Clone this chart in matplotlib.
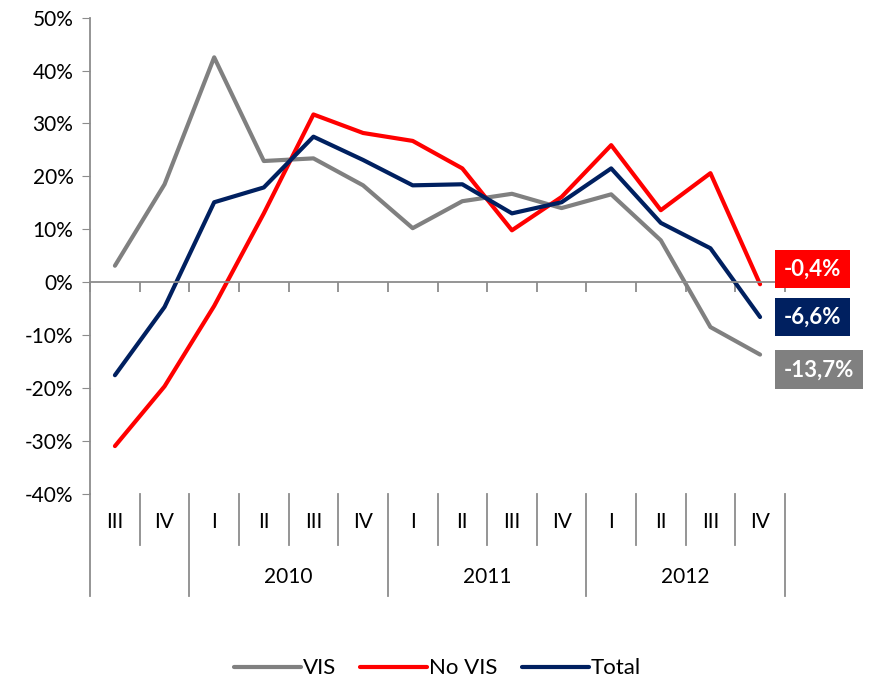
import matplotlib.pyplot as plt
import matplotlib.transforms as mtransforms

plt.rcParams['font.family'] = ['Lato', 'DejaVu Sans']

quarters = ["III", "IV", "I", "II", "III", "IV", "I", "II", "III", "IV",
            "I", "II", "III", "IV"]
years = ["2010", "2011", "2012"]
year_spans = [(1.5, 5.5), (5.5, 9.5), (9.5, 13.5)]

vis = [3.1, 18.5, 42.5, 22.9, 23.4, 18.3, 10.2, 15.3, 16.7, 14.0,
       16.6, 7.9, -8.5, -13.7]
no_vis = [-31.0, -19.7, -4.5, 13.0, 31.7, 28.2, 26.7, 21.5, 9.8, 16.1,
          25.9, 13.6, 20.6, -0.4]
total = [-17.6, -4.7, 15.1, 17.9, 27.5, 23.1, 18.3, 18.5, 13.0, 15.1,
         21.5, 11.2, 6.4, -6.6]

c_vis = "#808080"
c_novis = "#FF0000"
c_total = "#002060"
axis_c = "#8c8c8c"

fig = plt.figure(figsize=(8.75, 6.8), dpi=100)
ax = fig.add_axes([0.103, 0.274, 0.794, 0.7])

x = list(range(len(quarters)))
ax.plot(x, vis, color=c_vis, lw=3, label="VIS", solid_capstyle="round")
ax.plot(x, no_vis, color=c_novis, lw=3, label="No VIS", solid_capstyle="round")
ax.plot(x, total, color=c_total, lw=3, label="Total", solid_capstyle="round")

ax.set_xlim(-0.5, 13.5)
ax.set_ylim(-40, 50)
ax.set_yticks(range(-40, 51, 10))
ax.set_yticklabels([f"{v}%" for v in range(-40, 51, 10)], fontsize=15)
ax.tick_params(axis="y", direction="out", length=6, color=axis_c, pad=6)

for s in ["top", "right"]:
    ax.spines[s].set_visible(False)
ax.spines["left"].set_color(axis_c)
ax.spines["left"].set_linewidth(1.3)
ax.spines["bottom"].set_position(("data", 0))
ax.spines["bottom"].set_color(axis_c)
ax.spines["bottom"].set_linewidth(1.3)
ax.set_xticks([b + 0.5 for b in range(-1, 14)])
ax.set_xticklabels([])
ax.tick_params(axis="x", direction="out", length=7, color=axis_c, width=1.3)

# category axis below the plot
trans = mtransforms.blended_transform_factory(ax.transData, ax.transAxes)
q_bottom = -0.107
y_bottom = -0.214
ax.plot([-0.5, -0.5], [0, y_bottom], transform=trans, color=axis_c, lw=1.3,
        clip_on=False)
for b in range(len(quarters)):
    edge = b + 0.5
    long_sep = any(abs(edge - e) < 1e-6 for span in year_spans for e in span)
    ax.plot([edge, edge], [0, y_bottom if long_sep else q_bottom],
            transform=trans, color=axis_c, lw=1.3, clip_on=False)
for i, q in enumerate(quarters):
    ax.text(i, -0.059, q, transform=trans, ha="center", va="center",
            fontsize=15)
for yr, (a, b) in zip(years, year_spans):
    ax.text((a + b) / 2, -0.176, yr, transform=trans, ha="center",
            va="center", fontsize=15)

# end labels
end_labels = [(no_vis[-1], c_novis, 11), (total[-1], c_total, 0),
              (vis[-1], c_vis, -11)]
for val, col, dy in end_labels:
    ax.annotate(f"{val:.1f}%".replace(".", ","), xy=(13, val),
                xytext=(17, dy), textcoords="offset points",
                ha="left", va="center", fontsize=16, fontweight="bold",
                color="white", annotation_clip=False,
                bbox=dict(boxstyle="square,pad=0.4", fc=col, ec="none"))

fig.legend(loc="lower center", ncol=3, frameon=False, fontsize=16,
           bbox_to_anchor=(0.5, -0.027), handlelength=3.0, handletextpad=0.1,
           columnspacing=1.1)

fig.savefig("out.png", dpi=100)
